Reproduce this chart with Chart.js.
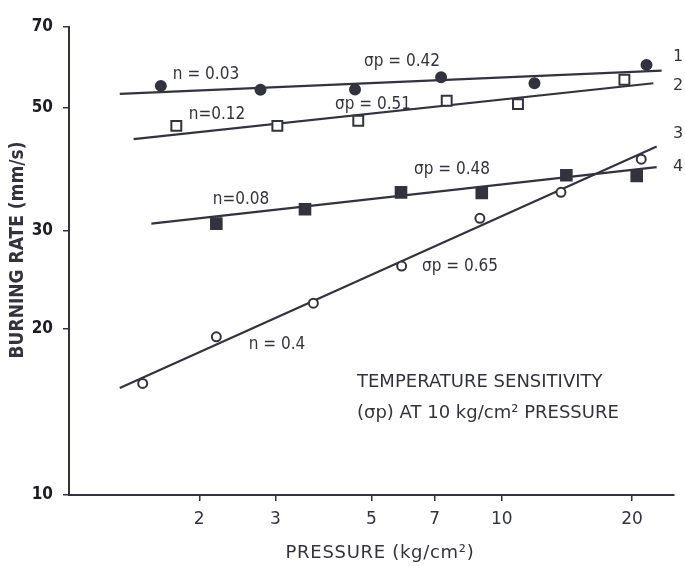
<!DOCTYPE html>
<html>
<head>
<meta charset="utf-8">
<script src="https://cdn.jsdelivr.net/npm/chart.js@4.4.1/dist/chart.umd.min.js"></script>
<style>
  html, body { margin: 0; padding: 0; background: #fff; }
  .wrap { position: relative; width: 685px; height: 566px; }
</style>
</head>
<body>
<div class="wrap"><canvas id="c"></canvas></div>
<script>
// measured points, pressure in kg/cm2, burning rate in mm/s
const pressure1 = [1.63, 2.77, 4.58, 7.24, 11.9, 21.6];
const rate1 = [54.8, 53.9, 54.0, 56.8, 55.4, 59.8];
const pressure2 = [1.77, 3.03, 4.66, 7.46, 10.9, 19.2];
const rate2 = [46.4, 46.4, 47.4, 51.5, 50.8, 56.2];
const pressure3 = [1.48, 2.19, 3.67, 5.87, 8.9, 13.7, 21.0];
const rate3 = [15.9, 19.3, 22.2, 25.9, 31.6, 35.2, 40.4];
const pressure4 = [2.19, 3.51, 5.85, 8.99, 14.1, 20.5];
const rate4 = [30.9, 32.8, 35.2, 35.1, 37.8, 37.7];

// fitted lines, read as two end points each
const fitPressure1 = [1.31, 23.4];
const fitRate1 = [53.0, 58.4];
const fitPressure2 = [1.41, 22.4];
const fitRate2 = [43.9, 55.4];
const fitPressure3 = [1.31, 22.8];
const fitRate3 = [15.6, 42.6];
const fitPressure4 = [1.55, 22.8];
const fitRate4 = [30.9, 39.1];

const xTicks = [2, 3, 5, 7, 10, 20];
const yTicks = [10, 20, 30, 50, 70];

const ink = "#33333f";
const wide = "'DejaVu Sans', 'Liberation Sans', sans-serif";
const narrow = "'DejaVu Sans Condensed', 'Liberation Sans Narrow', 'DejaVu Sans', sans-serif";

function pts(xs, ys) {
  return xs.map((x, i) => ({ x: x, y: ys[i] }));
}

function fitLine(xs, ys) {
  return {
    type: "line",
    data: pts(xs, ys),
    borderColor: ink,
    borderWidth: 2.2,
    pointRadius: 0,
    showLine: true,
    order: 2
  };
}

function marks(xs, ys, style, radius, filled) {
  return {
    type: "scatter",
    data: pts(xs, ys),
    pointStyle: style,
    pointRadius: radius,
    pointBackgroundColor: filled ? ink : "#fff",
    pointBorderColor: ink,
    pointBorderWidth: 2,
    order: 1
  };
}

// labels next to the lines: [text, x, y]
const notes = [
  ["n = 0.03", 206, 75],
  ["σp = 0.42", 402, 62],
  ["n=0.12", 217, 115],
  ["σp = 0.51", 373, 105],
  ["n=0.08", 241, 200],
  ["σp = 0.48", 452, 170],
  ["σp = 0.65", 460, 267],
  ["n = 0.4", 277, 345]
];
const curveNames = [["1", 678, 57], ["2", 678, 86], ["3", 678, 134], ["4", 678, 167]];
const boxText = ["TEMPERATURE SENSITIVITY", "(σp) AT 10 kg/cm² PRESSURE"];

const textPlugin = {
  id: "texts",
  afterDraw(chart) {
    const ctx = chart.ctx;
    ctx.save();
    ctx.fillStyle = ink;
    ctx.textBaseline = "middle";
    ctx.textAlign = "center";
    ctx.font = "17px " + narrow;
    notes.forEach(([t, x, y]) => ctx.fillText(t, x, y));
    ctx.font = "16px " + wide;
    curveNames.forEach(([t, x, y]) => ctx.fillText(t, x, y));
    ctx.textAlign = "left";
    ctx.font = "18px " + wide;
    ctx.fillText(boxText[0], 357, 382);
    ctx.fillText(boxText[1], 357, 413);
    // axis titles
    ctx.textAlign = "center";
    ctx.font = "18px " + wide;
    ctx.letterSpacing = "0.7px";
    ctx.fillText("PRESSURE (kg/cm²)", 380, 553);
    ctx.letterSpacing = "0px";
    ctx.translate(18, 250);
    ctx.rotate(-Math.PI / 2);
    ctx.font = "bold 19px " + narrow;
    ctx.fillText("BURNING RATE (mm/s)", 0, 0);
    ctx.restore();
  }
};

new Chart(document.getElementById("c"), {
  type: "scatter",
  data: {
    datasets: [
      fitLine(fitPressure1, fitRate1),
      fitLine(fitPressure2, fitRate2),
      fitLine(fitPressure3, fitRate3),
      fitLine(fitPressure4, fitRate4),
      marks(pressure1, rate1, "circle", 5, true),
      marks(pressure2, rate2, "rect", 7, false),
      marks(pressure3, rate3, "circle", 4.5, false),
      marks(pressure4, rate4, "rect", 7.5, true)
    ]
  },
  options: {
    responsive: true,
    maintainAspectRatio: false,
    animation: false,
    layout: { padding: { top: 27, right: 11, left: 0, bottom: 0 } },
    plugins: { legend: { display: false }, tooltip: { enabled: false } },
    scales: {
      x: {
        type: "logarithmic",
        min: 1,
        max: 25,
        afterBuildTicks: (s) => { s.ticks = xTicks.map((v) => ({ value: v })); },
        afterFit: (s) => { s.height = 71; },
        grid: { drawOnChartArea: false, drawTicks: true, tickLength: 6, color: ink, lineWidth: 1.5 },
        border: { display: true, color: ink, width: 2 },
        ticks: {
          autoSkip: false,
          maxRotation: 0,
          padding: 8,
          color: ink,
          font: { family: wide, size: 17 },
          callback: (v) => String(v)
        }
      },
      y: {
        type: "logarithmic",
        min: 10,
        max: 70,
        afterBuildTicks: (s) => { s.ticks = yTicks.map((v) => ({ value: v })); },
        afterFit: (s) => { s.width = 69; },
        grid: { drawOnChartArea: false, drawTicks: true, tickLength: 6, color: ink, lineWidth: 1.5 },
        border: { display: true, color: ink, width: 2 },
        ticks: {
          autoSkip: false,
          padding: 10,
          color: "#1c1c24",
          font: { family: narrow, size: 17, weight: "bold" },
          callback: (v) => String(v)
        }
      }
    }
  },
  plugins: [textPlugin]
});
</script>
</body>
</html>
